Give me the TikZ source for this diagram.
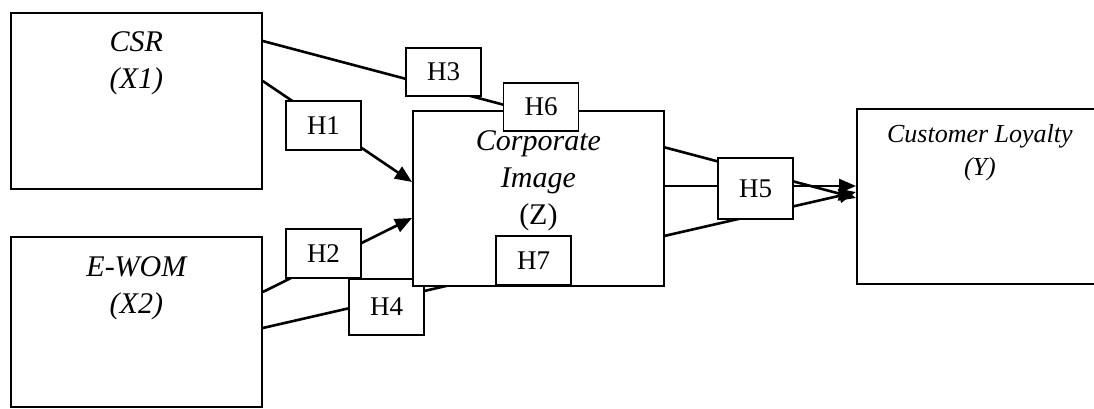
\documentclass[tikz,border=0pt]{standalone}
\usepackage{fontspec}
\setmainfont{Liberation Serif}
\usetikzlibrary{arrows.meta, positioning, backgrounds}

\begin{document}
\begin{tikzpicture}[
    x=1pt, y=-1pt,
    box/.style={rectangle, draw, line width=1.8pt, fill=white, inner sep=0pt, anchor=north west},
    hbox/.style={rectangle, draw, line width=1.8pt, fill=white, inner sep=0pt, minimum width=75pt, minimum height=49pt, font=\fontsize{27}{32}\selectfont},
    ttl/.style={align=center, inner sep=0pt, font=\fontsize{30}{37}\selectfont\itshape},
    link/.style={line width=2.6pt, -{Triangle[length=17pt,width=14pt]}}
]
\useasboundingbox (0,0) rectangle (1094,408);

% variables
\node (csr) [box, minimum width=251pt, minimum height=176pt] at (10,12) {};
\node (ewom) [box, minimum width=251pt, minimum height=170pt] at (10,236) {};
\node (cl) [box, minimum width=260pt, minimum height=175pt] at (856,108) {};

% hypotheses and mediator
\node (h4) [hbox, minimum height=56pt] at (386.5,307) {H4};
\node (corp) [box, minimum width=251pt, minimum height=175pt] at (412,110) {};
\node (h6) [hbox, minimum height=48pt] at (541,107) {H6};
\node (h7) [hbox] at (533.5,260.5) {H7};
\node (h1) [hbox] at (323.5,125.5) {H1};
\node (h2) [hbox] at (323.5,253.5) {H2};
\node (h3) [hbox, minimum height=48pt] at (443.5,72) {H3};
\node (h5) [hbox, minimum height=61pt] at (755.5,188.5) {H5};

% titles
\node (csrtxt) [ttl, below=19.5pt of csr.north] {CSR\\(X1)};
\node (ewomtxt) [ttl, below=20pt of ewom.north] {E-WOM\\(X2)};
\node (corptxt) [ttl, below=20pt of corp.north] {Corporate\\Image\\{\upshape (Z)}};
\node (cltxt) [ttl, font=\fontsize{26}{33}\selectfont\itshape, below=16pt of cl.north, xshift=-7pt] {Customer Loyalty\\(Y)};

% paths
\begin{scope}[on background layer]
\draw [link] ([yshift=-29pt]csr.north east) -- ([yshift=-90pt]cl.north west);
\draw [link] ([yshift=-69pt]csr.north east) -- ([yshift=-72pt]corp.north west);
\draw [link] ([yshift=-56pt]ewom.north east) -- ([yshift=-108pt]corp.north west);
\draw [link] ([yshift=-92pt]ewom.north east) -- ([yshift=-84pt]cl.north west);
\draw [link] ([yshift=-76pt]corp.north east) -- ([yshift=-78pt]cl.north west);
\end{scope}

\end{tikzpicture}
\end{document}
